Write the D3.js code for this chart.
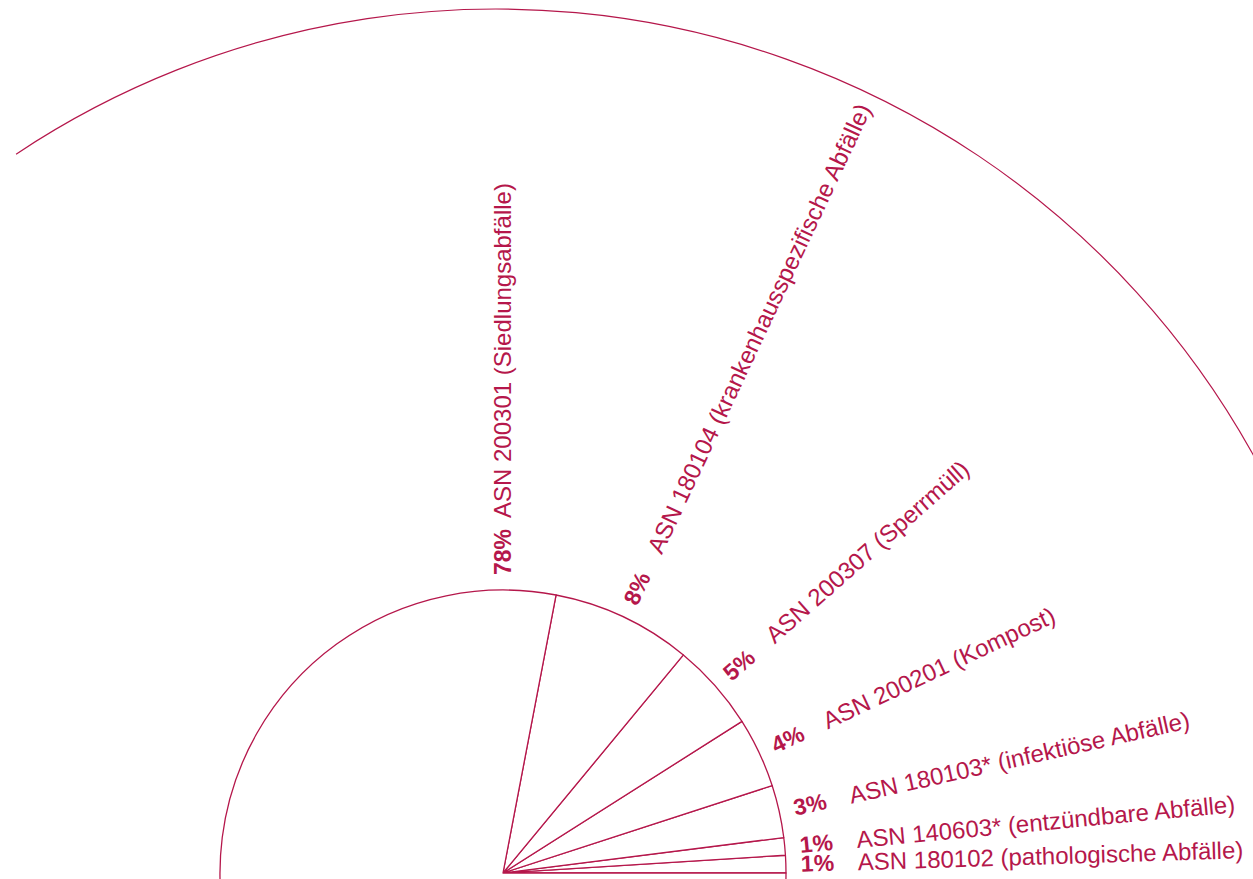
<!DOCTYPE html>
<html>
<head>
<meta charset="utf-8">
<script src="https://cdn.jsdelivr.net/npm/d3@7"></script>
<style>
  html, body { margin: 0; padding: 0; background: #fff; }
  svg { display: block; }
</style>
</head>
<body>
<script>
// Abfallarten, gegen den Uhrzeigersinn ab 3 Uhr
const categories = [
  "ASN 180102 (pathologische Abfälle)",
  "ASN 140603* (entzündbare Abfälle)",
  "ASN 180103* (infektiöse Abfälle)",
  "ASN 200201 (Kompost)",
  "ASN 200307 (Sperrmüll)",
  "ASN 180104 (krankenhausspezifische Abfälle)",
  "ASN 200301 (Siedlungsabfälle)"
];
const shares = [1, 1, 3, 4, 5, 8, 78];

const W = 1253, H = 879;
const color = "#b5174b";
const cx = 503, cy = 873, r = 283;

const svg = d3.select("body").append("svg").attr("width", W).attr("height", H);

// grosser Bogen im Hintergrund
const big = d3.path();
const a0 = Math.atan2(154 - 875, 16 - 496);
big.arc(496, 875, 866, a0, -0.3, false);
svg.append("path")
  .attr("d", big.toString())
  .attr("fill", "none")
  .attr("stroke", color)
  .attr("stroke-width", 1.2);

const pie = d3.pie().sort(null).value(d => d)
  .startAngle(Math.PI / 2).endAngle(Math.PI / 2 - 2 * Math.PI);
const arcs = pie(shares);
const arc = d3.arc().innerRadius(0).outerRadius(r);

const g = svg.append("g").attr("transform", `translate(${cx},${cy})`);
g.selectAll("path")
  .data(arcs)
  .enter()
  .append("path")
  .attr("d", arc)
  .attr("fill", "#fff")
  .attr("stroke", color)
  .attr("stroke-width", 1.3)
  .attr("stroke-linejoin", "round");

// Beschriftungen radial; die grosse Scheibe wird senkrecht nach oben beschriftet
const labels = g.selectAll("g.label")
  .data(arcs)
  .enter()
  .append("g")
  .attr("class", "label")
  .attr("transform", (d, i) => {
    const a = i === arcs.length - 1 ? 0 : (d.startAngle + d.endAngle) / 2;
    return `rotate(${a * 180 / Math.PI - 90})`;
  })
  .attr("fill", color)
  .attr("font-family", "'Liberation Sans', Arial, sans-serif");

labels.append("text")
  .attr("x", 298)
  .attr("dy", "0.35em")
  .attr("font-size", 23)
  .attr("font-weight", "bold")
  .text(d => d.data + "%");

labels.append("text")
  .attr("x", 355)
  .attr("dy", "0.35em")
  .attr("font-size", 24)
  .text((d, i) => categories[i]);
</script>
</body>
</html>
